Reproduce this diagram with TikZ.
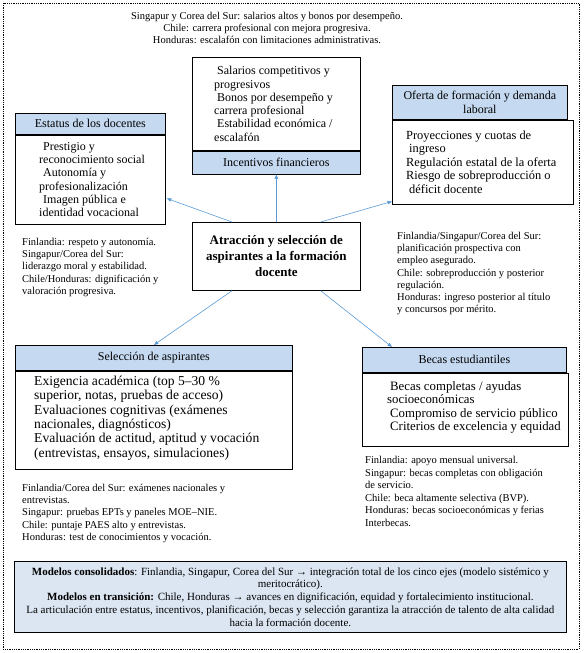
\documentclass[tikz,border=0pt]{standalone}
\usepackage{fontspec}
\setmainfont{Liberation Serif}
\usetikzlibrary{arrows.meta,calc}
\definecolor{hdrblue}{RGB}{197,217,241}
\definecolor{botblue}{RGB}{220,230,242}
\definecolor{arrblue}{RGB}{91,155,213}
\newcommand{\fsnote}{\fontsize{10.5}{12.2}\selectfont}
\newcommand{\fsbody}{\fontsize{12}{13.3}\selectfont}
\newcommand{\fssel}{\fontsize{13.6}{14.4}\selectfont}
\newcommand{\fshdr}{\fontsize{12}{14}\selectfont}
\newcommand{\fsctr}{\fontsize{13}{16}\selectfont\bfseries}
\begin{document}
\begin{tikzpicture}[x=1pt,y=-1pt,
  box/.style={draw=black, line width=0.7pt, inner sep=0pt, rectangle, anchor=north west},
  hdr/.style={box, fill=hdrblue, font=\fshdr, align=center},
  bodybox/.style={box, fill=white},
  txt/.style={inner sep=0pt, align=left, anchor=west},
  note/.style={inner sep=0pt, align=left, anchor=north west, font=\fsnote},
  conn/.style={draw=arrblue, line width=0.6pt, -{Triangle[length=4.5pt,width=3.5pt]}}]
\useasboundingbox (0,0) rectangle (585,653);
\draw[densely dotted, line width=0.8pt] (3,3) rectangle (579,649);

% top note
\node[font=\fsnote, align=center, inner sep=0pt] (topn) at (267,28)
  {Singapur y Corea del Sur: salarios altos y bonos por desempeño.\\
   Chile: carrera profesional con mejora progresiva.\\
   Honduras: escalafón con limitaciones administrativas.};

% Incentivos
\node[bodybox, minimum width=168, minimum height=93] (incb) at (192,57) {};
\node[hdr, minimum width=168, minimum height=23] (inch) at (incb.south west) {Incentivos financieros};
\node[txt, font=\fsbody] (inct) at ($(incb.west)+(22,0)$)
  {\hspace*{3pt}Salarios competitivos y\\progresivos\\\hspace*{3pt}Bonos por desempeño y\\carrera profesional\\\hspace*{3pt}Estabilidad económica /\\escalafón};

% Estatus
\node[hdr, minimum width=150, minimum height=21] (esth) at (15,113) {Estatus de los docentes};
\node[bodybox, minimum width=150, minimum height=89] (estb) at (esth.south west) {};
\node[txt, font=\fsbody] (estt) at ($(estb.west)+(24,0)$)
  {\hspace*{4pt}Prestigio y\\reconocimiento social\\\hspace*{4pt}Autonomía y\\profesionalización\\\hspace*{4pt}Imagen pública e\\identidad vocacional};

% Oferta
\node[hdr, minimum width=175, minimum height=34] (ofh) at (392,85) {Oferta de formación y demanda\\laboral};
\node[bodybox, minimum width=181, minimum height=84] (ofb) at (ofh.south west) {};
\node[txt, font=\fontsize{12.4}{13.5}\selectfont] (oft) at ($(ofb.west)+(14,0)$)
  {Proyecciones y cuotas de\\\hspace*{3pt}ingreso\\Regulación estatal de la oferta\\Riesgo de sobreproducción o\\\hspace*{3pt}déficit docente};

% Center
\node[box, fill=white, minimum width=168, minimum height=68, align=center, font=\fsctr] (ctr) at (192,222)
  {Atracción y selección de\\aspirantes a la formación\\docente};

% Selección
\node[hdr, minimum width=277, minimum height=25] (selh) at (15,345) {Selección de aspirantes};
\node[bodybox, minimum width=277, minimum height=98] (selb) at (selh.south west) {};
\node[txt, font=\fssel] (selt) at ($(selb.west)+(19,-2)$)
  {Exigencia académica (top 5–30 \%\\superior, notas, pruebas de acceso)\\Evaluaciones cognitivas (exámenes\\nacionales, diagnósticos)\\Evaluación de actitud, aptitud y vocación\\(entrevistas, ensayos, simulaciones)};

% Becas
\node[hdr, minimum width=204, minimum height=25] (bech) at (362,347) {Becas estudiantiles};
\node[bodybox, minimum width=206, minimum height=73] (becb) at (bech.south west) {};
\node[txt, font=\fontsize{12.8}{13.4}\selectfont] (bect) at ($(becb.west)+(25,-2)$)
  {\hspace*{3pt}Becas completas / ayudas\\socioeconómicas\\\hspace*{3pt}Compromiso de servicio público\\\hspace*{3pt}Criterios de excelencia y equidad};

% Notes
\node[note] (lefn) at (22,238)
  {Finlandia: respeto y autonomía.\\Singapur/Corea del Sur:\\liderazgo moral y estabilidad.\\Chile/Honduras: dignificación y\\valoración progresiva.};
\node[note] (rign) at (397,232)
  {Finlandia/Singapur/Corea del Sur:\\planificación prospectiva con\\empleo asegurado.\\Chile: sobreproducción y posterior\\regulación.\\Honduras: ingreso posterior al título\\y concursos por mérito.};
\node[note] (seln) at (22,484)
  {Finlandia/Corea del Sur: exámenes nacionales y\\entrevistas.\\Singapur: pruebas EPTs y paneles MOE–NIE.\\Chile: puntaje PAES alto y entrevistas.\\Honduras: test de conocimientos y vocación.};
\node[note, font=\fontsize{10.5}{12.6}\selectfont] (becn) at (365,456)
  {Finlandia: apoyo mensual universal.\\Singapur: becas completas con obligación\\de servicio.\\Chile: beca altamente selectiva (BVP).\\Honduras: becas socioeconómicas y ferias\\Interbecas.};

% Bottom
\node[box, fill=botblue, minimum width=552, minimum height=71, align=center, font=\fontsize{11}{12.8}\selectfont] (bot) at (14,561)
  {\textbf{Modelos consolidados}: Finlandia, Singapur, Corea del Sur → integración total de los cinco ejes (modelo sistémico y\\
   meritocrático).\\
   \textbf{Modelos en transición:} Chile, Honduras → avances en dignificación, equidad y fortalecimiento institucional.\\
   La articulación entre estatus, incentivos, planificación, becas y selección garantiza la atracción de talento de alta calidad\\
   hacia la formación docente.};

% Connectors
\draw[conn] (ctr.north) -- (inch.south);
\draw[conn] ($(ctr.north west)+(40,0)$) -- ($(estb.south east)+(1,-26)$);
\draw[conn] ($(ctr.north east)+(-40,0)$) -- ($(ofb.south west)+(0,-3)$);
\draw[conn] ($(ctr.south west)+(40,0)$) -- (selh.north);
\draw[conn] ($(ctr.south east)+(-40,0)$) -- ($(bech.north west)+(30,0)$);
\end{tikzpicture}
\end{document}
